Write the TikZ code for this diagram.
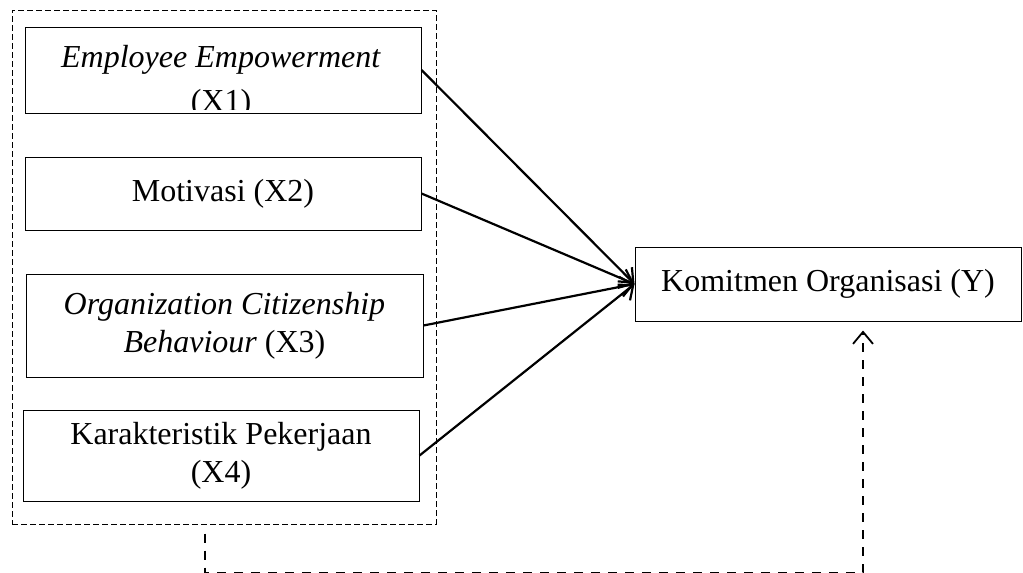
\documentclass[tikz,border=0pt]{standalone}
\usepackage{fontspec}
\setmainfont{Liberation Serif}
\usetikzlibrary{arrows.meta,positioning}

\begin{document}
\begin{tikzpicture}[
  x=0.5pt,y=-0.5pt,
  every node/.style={font=\fontsize{16pt}{19pt}\selectfont,align=center},
  varbox/.style={draw,line width=0.5pt,inner sep=0pt},
  grpbox/.style={draw,line width=0.5pt,dash pattern=on 3pt off 1.5pt,inner sep=0pt,minimum width=212pt,minimum height=257pt},
  arr/.style={-{Straight Barb[length=6pt,width=10pt]},line width=1.1pt},
  modarr/.style={-{Straight Barb[length=6pt,width=10pt]},line width=0.9pt,dash pattern=on 4.5pt off 4pt}
]
\useasboundingbox (0,0) rectangle (1023,573);
\node[grpbox] (grp) at (224,267) {};
\node[varbox,minimum width=198pt,minimum height=43pt] (x1) at (223,70) {};
\begin{scope}
  \clip (x1.north west) rectangle ([yshift=2pt]x1.south east);
  \node[inner sep=0pt] (x1txt) at (221,82) {\textit{Employee Empowerment}\\[3pt](X1)};
\end{scope}
\node[varbox,minimum width=198pt,minimum height=36.5pt] (x2) at (223,193.5) {\raisebox{-1.5pt}{Motivasi (X2)}};
\node[varbox,minimum width=198.5pt,minimum height=51.5pt] (x3) at (224.5,325.5) {\textit{Organization Citizenship}\\\textit{Behaviour} (X3)};
\node[varbox,minimum width=198pt,minimum height=45.5pt] (x4) at (221,455.5) {Karakteristik Pekerjaan\\(X4)};
\node[varbox,minimum width=193pt,minimum height=37pt] (y) at (828,284) {Komitmen Organisasi (Y)};

\draw[arr] (x1.east) -- (y.west);
\draw[arr] (x2.east) -- (y.west);
\draw[arr] (x3.east) -- (y.west);
\draw[arr] (x4.east) -- (y.west);
\draw[modarr] ([xshift=-9.5pt,yshift=-4.5pt]grp.south) -- ++(0,39) -| ([xshift=17.5pt,yshift=-4.5pt]y.south);
\end{tikzpicture}
\end{document}
